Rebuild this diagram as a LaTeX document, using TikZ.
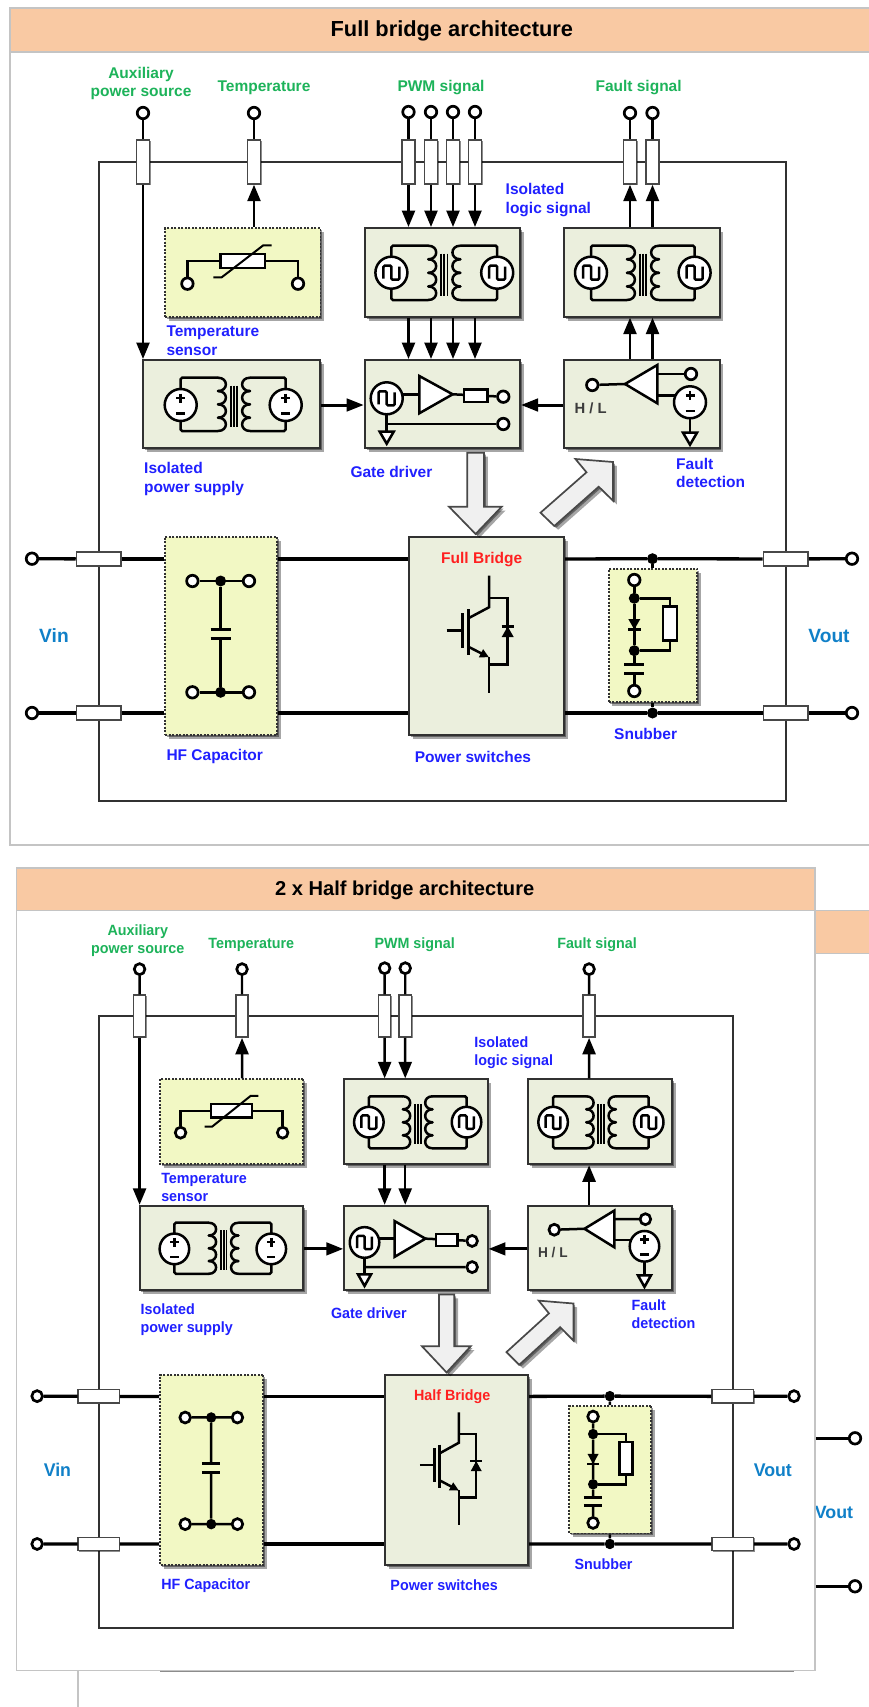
\documentclass[tikz,border=0pt]{standalone}
\usepackage{fontspec}
\setmainfont{Liberation Sans}
\usetikzlibrary{arrows.meta,shadows,calc}
\definecolor{hdr}{HTML}{F9C9A3}
\definecolor{blockfill}{HTML}{EBEFDD}
\definecolor{sensefill}{HTML}{F2F8C4}
\definecolor{labgreen}{HTML}{1DB35A}
\definecolor{labblue}{HTML}{2020FF}
\definecolor{labred}{HTML}{FF2020}
\definecolor{labvin}{HTML}{1080C8}
\definecolor{panelgray}{HTML}{C4C4C4}
\definecolor{ink}{HTML}{1A1A1A}
\tikzset{
  softshadow/.style={drop shadow={shadow xshift=1.8pt,shadow yshift=-1.8pt,opacity=.4,fill=black},
                     drop shadow={shadow xshift=3.8pt,shadow yshift=-3.8pt,opacity=.35,fill=black}},
  thinshadow/.style={drop shadow={shadow xshift=1.2pt,shadow yshift=-1.2pt,opacity=.45,fill=black}},
  blockbox/.style={draw=ink!90,line width=2pt,fill=blockfill,inner sep=0,softshadow},
  sensebox/.style={draw=ink!90,line width=1.8pt,dash pattern=on 2pt off 1.5pt,fill=sensefill,inner sep=0,softshadow},
  feedbox/.style={draw=ink!80,line width=1.5pt,fill=white,inner sep=0,thinshadow},
  term/.style={circle,draw=black,line width=2.7pt,fill=white,minimum size=11.5pt,inner sep=0},
  joint/.style={circle,fill=black,draw=none,minimum size=11pt,inner sep=0},
  wire/.style={draw=black,line width=2.5pt},
  sigline/.style={draw=black,line width=2.4pt},
  sigarrow/.style={draw=black,line width=2.5pt,-{Triangle[length=16.5pt,width=13pt]}},
  feedarrow/.style={draw=black,line width=3pt,-{Triangle[length=17pt,width=12.5pt]}},
  powerline/.style={draw=black,line width=3.3pt},
  bigarrow/.style={draw=ink!80,line width=1.7pt,fill=black!6,softshadow},
  lab/.style={font=\fontsize{15.5}{18.8}\selectfont\bfseries,inner sep=0,align=left},
  labg/.style={lab,text=labgreen,align=center},
  labb/.style={lab,text=labblue,anchor=west},
  labv/.style={font=\fontsize{19.2}{22}\selectfont\bfseries,inner sep=0,text=labvin},
  titletext/.style={inner sep=0,text=black},
}
% box node from corners
\newcommand\BoxAt[6]{%
  \pgfmathsetmacro\bxw{#4-#2}\pgfmathsetmacro\bxh{#5-#3}%
  \node[#6,minimum width=\bxw pt,minimum height=\bxh pt] (#1) at ({(#2+#4)/2},{(#3+#5)/2}) {};}
% coil scallops
\newcommand\Coil[4]{%
  \foreach \kk in {0,1,2,3}{%
    \pgfmathsetmacro\coilh{(#4-#3)/4}%
    \pgfmathsetmacro\coilya{#3+\kk*\coilh}\pgfmathsetmacro\coilyb{\coilya+\coilh}\pgfmathsetmacro\coilxb{#1+#2*10.5}%
    \draw[wire,line cap=round] (#1,\coilya) .. controls (\coilxb,\coilya) and (\coilxb,\coilyb) .. (#1,\coilyb);}}
\newcommand\SrcWave[2]{%
  \draw[wire,fill=white] (#1,#2) circle[radius=16];
  \begin{scope}[shift={(#1,#2)}]
    \draw[wire,rounded corners=1.2pt] (-8,6) -- (-8,-7) -- (0,-7) -- (0,7) -- (8,7) -- (8,-6);
  \end{scope}}
\newcommand\SrcDC[2]{%
  \draw[wire,fill=white] (#1,#2) circle[radius=16];
  \begin{scope}[shift={(#1,#2)}]
    \draw[wire] (-4.5,-7) -- (4.5,-7) (0,-11.5) -- (0,-2.5) (-4.5,8.5) -- (4.5,8.5);
  \end{scope}}
% transformer: cx, lx, rx, cy, ytop, ybot
\newcommand\Xf[6]{%
  \pgfmathsetmacro\xfl{#1-16}\pgfmathsetmacro\xfr{#1+16}%
  \draw[wire,rounded corners=1.5pt] (#2,#4) -- (#2,#5) -- (\xfl,#5);
  \draw[wire,rounded corners=1.5pt] (#2,#4) -- (#2,#6) -- (\xfl,#6);
  \draw[wire,rounded corners=1.5pt] (#3,#4) -- (#3,#5) -- (\xfr,#5);
  \draw[wire,rounded corners=1.5pt] (#3,#4) -- (#3,#6) -- (\xfr,#6);
  \Coil{\xfl}{1}{#5}{#6}\Coil{\xfr}{-1}{#5}{#6}
  \pgfmathsetmacro\corea{#1-3.2}\pgfmathsetmacro\coreb{#1+3.2}%
  \pgfmathsetmacro\coret{#5+8}\pgfmathsetmacro\coreu{#6-4}%
  \draw[black,line width=1.9pt] (\corea,\coret) -- (\corea,\coreu) (#1,\coret) -- (#1,\coreu) (\coreb,\coret) -- (\coreb,\coreu);}
\newcommand\GroundAt[2]{%
  \begin{scope}[shift={(#1,#2)}]
    \draw[wire,fill=white,line join=miter] (-7,0) -- (7,0) -- (0,12) -- cycle;
  \end{scope}}

% one whole architecture, in the frame of the upper one.
% #1 prefix, #2 PWM i/x list, #3 Fault i/x list, #4 bridge name
\newcommand\Arch[4]{%
  % enclosure
  \BoxAt{#1-encl}{98.7}{162}{785.5}{801}{draw=ink!90,line width=2pt,inner sep=0}
  % labels
  \node[labg] (#1-laux) at (141,83.5) {Auxiliary\\power source};
  \node[labg] (#1-ltemp) at (264,87.8) {Temperature};
  \node[labg] (#1-lpwm) at (441,87.3) {PWM signal};
  \node[labg] (#1-lfault) at (638.6,87.3) {Fault signal};
  \node[labb] (#1-liso) at (505.5,199.8) {Isolated\\logic signal};
  \node[labb] (#1-lsens) at (166.3,341) {Temperature\\sensor};
  \node[labb] (#1-lpsu) at (144,478.8) {Isolated\\power supply};
  \node[labb] (#1-lgate) at (350.3,472) {Gate driver};
  \node[labb] (#1-lfd) at (676,473) {Fault\\detection};
  \node[labb] (#1-lhf) at (166.3,756.5) {HF Capacitor};
  \node[labb] (#1-lsw) at (414.6,756.5) {Power switches};
  \node[labb] (#1-lsn) at (614,734) {Snubber};
  \node[labv] (#1-lvin) at (54,635.7) {Vin};
  \node[labv] (#1-lvout) at (829,635.7) {Vout};
  % blocks
  \BoxAt{#1-sens}{165}{228}{320.4}{316.7}{sensebox}
  \BoxAt{#1-iso1}{364.7}{228}{520}{316.7}{blockbox}
  \BoxAt{#1-iso2}{564}{228}{719.5}{316.7}{blockbox}
  \BoxAt{#1-psu}{143}{360}{320.4}{448}{blockbox}
  \BoxAt{#1-gate}{364.7}{360}{520}{448}{blockbox}
  \BoxAt{#1-fd}{564}{360}{719.5}{448}{blockbox}
  \BoxAt{#1-hf}{165}{536.7}{277}{735}{sensebox}
  \BoxAt{#1-br}{409}{537}{564}{735}{blockbox}
  \BoxAt{#1-sn}{608.6}{569}{697.3}{702}{sensebox}
  % top terminals and feedthroughs
  \node[term] (#1-taux) at (143,113) {};
  \BoxAt{#1-faux}{136.4}{140}{149.6}{184}{feedbox}
  \draw[sigline] (#1-taux) -- (#1-faux);
  \draw[sigarrow] (#1-faux) -- (#1-faux |- #1-psu.north);
  \node[term] (#1-ttemp) at (254,113) {};
  \BoxAt{#1-ftemp}{247.4}{140}{260.6}{184}{feedbox}
  \draw[sigline] (#1-ttemp) -- (#1-ftemp);
  \draw[sigarrow] (#1-ftemp |- #1-sens.north) -- (#1-ftemp);
  \foreach \idx/\xx in {#2}{%
    \node[term] (#1-tp\idx) at (\xx,112) {};
    \pgfmathsetmacro\xlo{\xx-6.6}\pgfmathsetmacro\xhi{\xx+6.6}%
    \BoxAt{#1-fp\idx}{\xlo}{140}{\xhi}{184}{feedbox}
    \draw[sigline] (#1-tp\idx) -- (#1-fp\idx);
    \draw[sigarrow] (#1-fp\idx) -- (#1-fp\idx |- #1-iso1.north);
    \draw[sigarrow] (#1-fp\idx |- #1-iso1.south) -- (#1-fp\idx |- #1-gate.north);
  }
  \foreach \idx/\xx in {#3}{%
    \node[term] (#1-tf\idx) at (\xx,113) {};
    \pgfmathsetmacro\xlo{\xx-6.6}\pgfmathsetmacro\xhi{\xx+6.6}%
    \BoxAt{#1-ff\idx}{\xlo}{140}{\xhi}{184}{feedbox}
    \draw[sigline] (#1-tf\idx) -- (#1-ff\idx);
    \draw[sigarrow] (#1-ff\idx |- #1-iso2.north) -- (#1-ff\idx);
    \draw[sigarrow] (#1-ff\idx |- #1-fd.north) -- (#1-ff\idx |- #1-iso2.south);
  }
  \draw[feedarrow] (#1-psu.east |- 0,405) -- (#1-gate.west |- 0,405);
  \draw[feedarrow] (#1-fd.west |- 0,405) -- (#1-gate.east |- 0,405);
  % hollow arrows
  \path[bigarrow,line join=miter] (467.3,452.7) -- (484,452.7) -- (484,506.7) -- (501.7,506.7) -- (475.6,534) -- (449,506.7) -- (467.3,506.7) -- cycle;
  \path[bigarrow,line join=miter] (613,462) -- (575.4,459) -- (586.5,472.3) -- (540.5,512.7) -- (554.3,526) -- (598.7,486.7) -- (613,500.7) -- cycle;
  % power rails
  \node[term] (#1-vi1) at (32,558.7) {};
  \node[term] (#1-vi2) at (32,713) {};
  \node[term] (#1-vo1) at (852,558.7) {};
  \node[term] (#1-vo2) at (852,713) {};
  \BoxAt{#1-fl1}{76.5}{552}{121}{566}{feedbox}
  \BoxAt{#1-fl2}{76.5}{706}{121}{720}{feedbox}
  \BoxAt{#1-fr1}{763.3}{552}{808}{566}{feedbox}
  \BoxAt{#1-fr2}{763.3}{706}{808}{720}{feedbox}
  \node[joint] (#1-d1) at (652.5,558.7) {};
  \node[joint] (#1-d2) at (652.5,713) {};
  \foreach \rr in {1,2}{%
    \draw[powerline] (#1-vi\rr) -- (#1-fl\rr);
    \draw[powerline] (#1-fl\rr) -- (#1-fl\rr -| #1-hf.west);
    \draw[powerline] (#1-fl\rr -| #1-hf.east) -- (#1-fl\rr -| #1-br.west);
    \draw[powerline] (#1-fl\rr -| #1-br.east) -- (#1-d\rr);
    \draw[powerline] (#1-d\rr) -- (#1-fr\rr);
    \draw[powerline] (#1-fr\rr) -- (#1-vo\rr);
  }
  \draw[sigline] (#1-d1) -- (#1-d1 |- #1-sn.north);
  \draw[sigline] (#1-d2) -- (#1-d2 |- #1-sn.south);
  \node[lab,text=labred] (#1-brname) at (481.7,559.2) {#4};
  % temperature sensor symbol
  \node[term] (#1-s1) at (187.4,283.7) {};
  \node[term] (#1-s2) at (298,283.7) {};
  \BoxAt{#1-sr}{220.6}{254}{265}{268}{draw=black,line width=2.5pt,fill=white,inner sep=0}
  \draw[wire] (#1-s1) |- (#1-sr);
  \draw[wire] (#1-s2) |- (#1-sr);
  \draw[black,line width=2pt] (213.4,277.3) -- (221.7,277.3) -- (263.3,245.3) -- (271.6,245.3);
  % transformers
  \Xf{444.3}{391.4}{497.2}{272.7}{245.7}{300}
  \SrcWave{391.4}{272.7}\SrcWave{497.2}{272.7}
  \Xf{643}{591}{694.6}{272.7}{245.7}{300}
  \SrcWave{591}{272.7}\SrcWave{694.6}{272.7}
  \Xf{234}{180.7}{285.7}{405}{377.7}{431}
  \SrcDC{180.7}{405}\SrcDC{285.7}{405}
  % gate driver symbol
  \draw[wire] (386.7,394.3) -- (419.3,394.3);
  \draw[wire] (386.7,398) -- (386.7,431.7);
  \GroundAt{386.7}{431.7}
  \SrcWave{386.7}{398.3}
  \node[term] (#1-g1) at (503.3,396.7) {};
  \node[term] (#1-g2) at (503.3,424) {};
  \draw[wire] (386.7,424) -- (#1-g2);
  \draw[wire] (452.7,394.3) -- (#1-g1);
  \draw[wire,fill=white,line join=miter] (419.3,376) -- (452.7,394.3) -- (419.3,413.3) -- cycle;
  \BoxAt{#1-gr}{464}{389.3}{487.3}{402}{draw=black,line width=2.5pt,fill=white,inner sep=0}
  % fault detection symbol
  \node[term] (#1-h1) at (592.3,385) {};
  \node[term] (#1-h2) at (691,374) {};
  \coordinate (#1-htip) at (625,384);
  \draw[wire] (#1-h1) -- (#1-htip);
  \draw[wire] (657.3,374) -- (#1-h2);
  \draw[wire] (657.3,395.7) -- (680,395.7);
  \draw[wire] (690,402) -- (690,432.7);
  \GroundAt{690}{432.7}
  \SrcDC{690}{402.3}
  \draw[wire,fill=white,line join=miter] (625,384) -- (657.3,365) -- (657.3,403.3) -- cycle;
  \node[lab,font=\fontsize{14.8}{16}\selectfont\bfseries,text=ink!85] (#1-hl) at (590.7,408.7) {H / L};
  % HF capacitor symbol
  \node[term] (#1-c1) at (192.4,581) {};
  \node[term] (#1-c2) at (249,581) {};
  \node[term] (#1-c3) at (192.4,692.3) {};
  \node[term] (#1-c4) at (249,692.3) {};
  \node[joint] (#1-c5) at (220.6,581) {};
  \node[joint] (#1-c6) at (220.6,692.3) {};
  \draw[wire] (#1-c1) -- (#1-c2);
  \draw[wire] (#1-c3) -- (#1-c4);
  \draw[wire] (#1-c5) -- (220.6,629.3);
  \draw[wire] (#1-c6) -- (220.6,638.3);
  \draw[black,line width=3pt] (210.6,629.3) -- (230.6,629.3) (210.6,638.3) -- (230.6,638.3);
  % IGBT symbol
  \draw[wire] (489,575.7) -- (489,607.3) -- (468.3,618.3);
  \draw[wire] (489,598) -- (507.7,598) -- (507.7,664.7) -- (489,664.7);
  \draw[black,line width=3pt] (468.3,609.3) -- (468.3,655);
  \draw[black,line width=3pt] (462.3,613) -- (462.3,648);
  \draw[wire] (446.7,630.7) -- (462.3,630.7);
  \draw[wire,-{Triangle[length=9pt,width=8.5pt]}] (468.3,646.7) -- (489,657.3);
  \draw[wire] (489,657) -- (489,693);
  \fill[black] (507.7,626.5) -- (513.7,637) -- (501.7,637) -- cycle;
  \draw[black,line width=2.2pt] (501.5,626.5) -- (513.9,626.5);
  % snubber symbol
  \node[term] (#1-n1) at (634.3,580) {};
  \node[term] (#1-n2) at (634.3,691) {};
  \node[joint] (#1-n3) at (634.3,598.3) {};
  \node[joint] (#1-n4) at (634.3,650.7) {};
  \draw[wire] (#1-n1) -- (#1-n3);
  \draw[wire] (#1-n3) -- (#1-n4);
  \draw[wire] (#1-n4) -- (634.3,664.7);
  \draw[wire] (#1-n2) -- (634.3,673.3);
  \draw[black,line width=3pt] (624.3,664.7) -- (644.3,664.7) (624.3,673.3) -- (644.3,673.3);
  \fill[black] (628.3,619) -- (640.3,619) -- (634.3,629.5) -- cycle;
  \draw[black,line width=2.2pt] (628.1,629.5) -- (640.5,629.5);
  \BoxAt{#1-nr}{663}{606.7}{677}{640.7}{draw=black,line width=2.5pt,fill=white,inner sep=0}
  \draw[wire] (#1-n3) -| (#1-nr);
  \draw[wire] (#1-n4) -| (#1-nr);
}

\begin{document}
\begin{tikzpicture}[x=1pt,y=-1pt]
\useasboundingbox (0,0) rectangle (869,1707);
\fill[white] (0,0) rectangle (869,1707);
% sheet behind the lower panel
\coordinate (backtl) at (815,910.7);
\coordinate (backbr) at (869,953.3);
\fill[hdr] (backtl) rectangle (backbr);
\draw[panelgray,line width=1.3pt] (815,910.7) -- (869,910.7) (815,953.3) -- (869,953.3);
\draw[panelgray,line width=1.5pt] (78,1671) -- (78,1707);
\node[labv,font=\fontsize{17.8}{20}\selectfont\bfseries] (backvout) at (834,1512) {Vout};
\node[term] (backv1) at (855,1438.3) {};
\node[term] (backv2) at (855,1586.3) {};
\coordinate (backe1) at (815,1438.3);
\coordinate (backe2) at (815,1586.3);
\draw[powerline] (backe1) -- (backv1);
\draw[powerline] (backe2) -- (backv2);
% upper panel
\draw[panelgray,line width=1.5pt,fill=white] (870,8) -- (10,8) -- (10,845) -- (870,845);
\fill[hdr] (10,8) rectangle (870,52);
\draw[panelgray,line width=1.3pt] (870,8) -- (10,8) -- (10,52) -- (870,52);
\node[titletext,font=\fontsize{21.8}{24}\selectfont\bfseries] (titleA) at (451.8,31) {Full bridge architecture};
% lower panel
\draw[panelgray,line width=1.5pt,fill=white] (16.6,868) rectangle (814.9,1670.7);
\draw[black!45,line width=1.5pt] (160,1671.4) -- (794,1671.4);
\fill[hdr] (16.6,868) rectangle (814.9,910.7);
\draw[panelgray,line width=1.3pt] (16.6,868) rectangle (814.9,910.7);
\node[titletext,font=\fontsize{20.1}{23}\selectfont\bfseries] (titleB) at (404.7,890.8) {2 x Half bridge architecture};

\Arch{A}{1/408.5,2/431,3/453,4/475}{1/630,2/652.5}{Full Bridge}
\begin{scope}[xshift=7.6pt,yshift=-860.9pt,xscale=.923,yscale=.958,transform shape]
\Arch{B}{1/408.5,2/430.8}{1/630}{Half Bridge}
\end{scope}
\end{tikzpicture}
\end{document}
